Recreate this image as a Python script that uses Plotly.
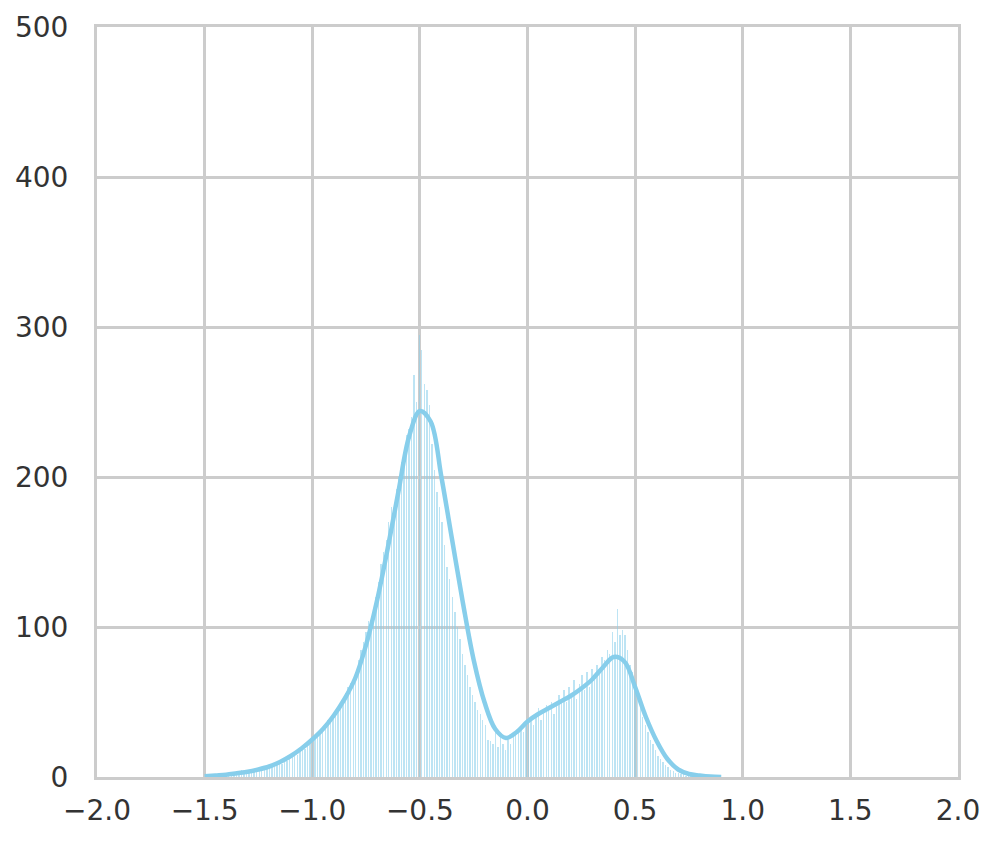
import plotly.graph_objects as go

# histogram: 200 bins starting at -1.5
bin_start = -1.5
bin_width = 0.0118
counts = [
    0, 0, 1, 0, 1, 1, 1, 2, 1, 2, 1, 3, 2, 2, 5, 3, 3,
    3, 4, 4, 5, 4, 6, 5, 7, 6,
    8, 7, 9, 10, 9, 12, 11, 13,
    14, 16, 15, 18, 20, 19, 23, 25, 24,
    27, 30, 29, 33, 35, 38, 37, 42,
    44, 47, 50, 52, 56, 60, 63, 66, 70,
    78, 85, 90, 97, 104, 100, 112, 120,
    130, 142, 150, 158, 170, 180, 177, 192, 200,
    210, 215, 228, 232, 240, 268, 250, 295,
    285, 262, 258, 248, 222, 205, 190, 180, 170,
    155, 140, 132, 120, 110, 100, 92, 82,
    75, 68, 60, 55, 50, 45, 42, 38, 35,
    25, 24, 22, 30, 20, 28, 22, 18,
    25, 22, 30, 28, 32, 34, 30, 36, 38,
    40, 35, 42, 46, 38, 44, 48, 45,
    50, 42, 48, 55, 52, 58, 50, 60, 55,
    65, 52, 62, 68, 58, 70, 60, 72,
    68, 75, 72, 80, 78, 85, 82, 97, 90,
    112, 95, 98, 95, 85, 75, 70, 62,
    55, 48, 40, 35, 30, 25, 22, 18, 14,
    12, 10, 8, 7, 5, 4, 3, 3,
    2, 2, 1, 1, 1, 1, 0, 1, 0, 0, 0, 0, 0,
]
bin_centers = [bin_start + bin_width * (i + 0.5) for i in range(len(counts))]

# kde curve (scaled to counts)
kde_x = [-1.5, -1.45, -1.4, -1.35, -1.3, -1.25, -1.2, -1.15, -1.1, -1.05,
         -1.0, -0.95, -0.9, -0.85, -0.8, -0.75, -0.7, -0.65, -0.6, -0.55,
         -0.5, -0.45, -0.4, -0.35, -0.3, -0.25, -0.2, -0.15, -0.1, -0.05,
         0.0, 0.05, 0.1, 0.15, 0.2, 0.25, 0.3, 0.35, 0.4, 0.45,
         0.5, 0.55, 0.6, 0.65, 0.7, 0.75, 0.8, 0.85, 0.9]
kde_y = [0.5, 1, 1.5, 2.5, 3.5, 5, 7, 10, 14, 19,
         25, 32, 41, 52, 66, 88, 117, 152, 190, 227,
         244, 237, 200, 158, 116, 78, 50, 32, 26, 30,
         37, 42, 46, 50, 54, 59, 65, 73, 80, 77,
         60, 40, 24, 12, 5, 2, 1, 0.3, 0]

x_ticks = [-2.0, -1.5, -1.0, -0.5, 0.0, 0.5, 1.0, 1.5, 2.0]
y_ticks = [0, 100, 200, 300, 400, 500]

fig = go.Figure()
fig.add_trace(go.Bar(x=bin_centers, y=counts, width=bin_width * 0.55,
                     marker=dict(color='rgba(135,206,235,0.55)', line=dict(width=0)),
                     showlegend=False))
fig.add_trace(go.Scatter(x=kde_x, y=kde_y, mode='lines', line_shape='spline',
                         line=dict(color='#87CEEB', width=4.5), showlegend=False))

fig.update_layout(
    width=996, height=847,
    margin=dict(l=89, r=46, t=19, b=78),
    plot_bgcolor='white', paper_bgcolor='white',
    font=dict(family='DejaVu Sans', size=28, color='#333333'),
    bargap=0,
)
fig.update_xaxes(range=[-2, 2], tickvals=x_ticks, tickformat='.1f', automargin=False,
                 showgrid=True, gridcolor='#cccccc', gridwidth=2.5,
                 showline=True, linecolor='#cccccc', linewidth=3, mirror=True,
                 zeroline=False, ticks='', ticklabelstandoff=6)
fig.update_yaxes(range=[0, 500], tickvals=y_ticks, automargin=False,
                 showgrid=True, gridcolor='#cccccc', gridwidth=2.5,
                 showline=True, linecolor='#cccccc', linewidth=3, mirror=True,
                 zeroline=False, ticks='', ticklabelstandoff=20)

fig.write_html("out.html")
